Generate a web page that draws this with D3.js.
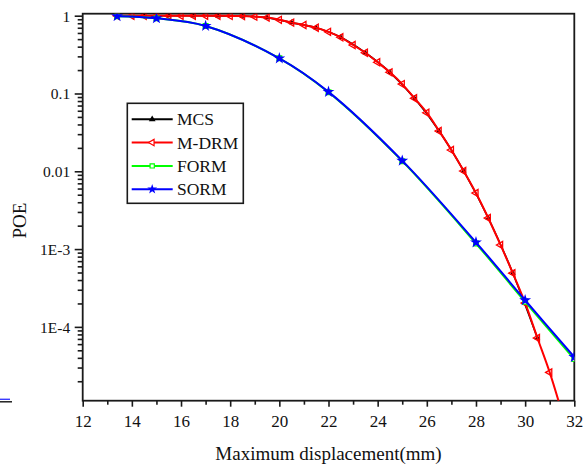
<!DOCTYPE html>
<html>
<head>
<meta charset="utf-8">
<script src="https://cdn.jsdelivr.net/npm/d3@7"></script>
<style>
  html, body { margin: 0; padding: 0; background: #fff; }
  svg { display: block; }
</style>
</head>
<body>
<svg id="chart" width="583" height="466"></svg>
<script>
// Probability of exceedance vs. maximum displacement
const mdrmX = [13.4, 14, 14.5, 15, 15.5, 16, 16.5, 17, 17.5, 18, 18.5, 19, 19.5, 20, 20.5, 21, 21.5, 22,
               22.5, 23, 23.5, 24, 24.5, 25, 25.5, 26, 26.5, 27, 27.5, 28, 28.5, 29, 29.5, 30, 30.5, 31, 31.5];
const mdrmPOE = [1.0, 1.0, 1.0, 0.999, 0.999, 0.998, 0.998, 0.997, 0.996, 0.994, 0.99, 0.972, 0.945, 0.885,
                 0.815, 0.76, 0.70, 0.62, 0.528, 0.42, 0.334, 0.252, 0.187, 0.132, 0.0867, 0.0566, 0.033,
                 0.0188, 0.0101, 0.00526, 0.00251, 0.00113, 4.9e-4, 2.03e-4, 7.2e-5, 2.6e-5, 7.9e-6];

const mcsX = [13.4, 14.5, 15.5, 16.5, 17.5, 18.5, 19.5, 20.5, 21.5, 22.5, 23.5, 24.5, 25.5, 26.5, 27.5, 28.5, 29.5, 30.5];
const mcsPOE = [1.0, 1.0, 0.999, 0.998, 0.996, 0.99, 0.945, 0.815, 0.70, 0.528, 0.334, 0.187, 0.0867, 0.033,
                0.0101, 0.00251, 4.9e-4, 7.2e-5];

const reliabX = [13.4, 15, 17, 20, 22, 25, 28, 30, 32];
const formPOE = [0.985, 0.926, 0.738, 0.283, 0.104, 0.0135, 0.00118, 2.1e-4, 3.85e-5];
const sormPOE = [0.985, 0.926, 0.738, 0.283, 0.105, 0.0137, 0.00122, 2.2e-4, 4.1e-5];

const xMajorTicks = [12, 14, 16, 18, 20, 22, 24, 26, 28, 30, 32];
const xMinorTicks = [13, 15, 17, 19, 21, 23, 25, 27, 29, 31];
const yMajorTicks = [1, 0.1, 0.01, 1e-3, 1e-4];
const yTickLabels = ["1", "0.1", "0.01", "1E-3", "1E-4"];

const seriesNames = ["MCS", "M-DRM", "FORM", "SORM"];
const seriesColors = ["#000000", "#ff0000", "#00ff00", "#0000ff"];

const svg = d3.select("#chart");
const serif = "Liberation Serif, Times New Roman, serif";
const plotLeft = 82.7, plotRight = 574.3, plotTop = 13.7, plotBottom = 400.7;

const x = d3.scaleLinear().domain([12, 32]).range([plotLeft, plotRight]);
const y = d3.scaleLog().domain([Math.pow(10, -4.949), Math.pow(10, 0.0257)]).range([plotBottom, plotTop]);

// minor log ticks: 2..9 within each decade in range
const yMinorTicks = [];
for (let e = -5; e <= 0; e++) {
  for (let m = 2; m <= 9; m++) {
    const v = m * Math.pow(10, e);
    if (v >= y.domain()[0] && v <= y.domain()[1]) yMinorTicks.push(v);
  }
}

svg.append("defs").append("clipPath").attr("id", "plotClip")
  .append("rect").attr("x", plotLeft).attr("y", plotTop)
  .attr("width", plotRight - plotLeft).attr("height", plotBottom - plotTop);

// axes
const axisColor = "#1a1a1a";
const gx = svg.append("g").attr("transform", `translate(0,${plotBottom})`)
  .call(d3.axisBottom(x).tickValues(xMajorTicks).tickSize(6).tickFormat(d => d));
gx.selectAll("text").attr("y", 26.5).attr("dy", 0)
  .style("font-family", serif).style("font-size", "17px").attr("fill", "#111");
svg.append("g").attr("transform", `translate(0,${plotBottom})`)
  .call(d3.axisBottom(x).tickValues(xMinorTicks).tickSize(4).tickFormat(""));

const gy = svg.append("g").attr("transform", `translate(${plotLeft},0)`)
  .call(d3.axisLeft(y).tickValues(yMajorTicks).tickSize(8).tickFormat((d, i) => yTickLabels[i]));
gy.selectAll("text").attr("x", -12.5).attr("dy", "0.35em")
  .style("font-family", serif).style("font-size", "15.5px").attr("fill", "#111");
svg.append("g").attr("transform", `translate(${plotLeft},0)`)
  .call(d3.axisLeft(y).tickValues(yMinorTicks).tickSize(5).tickFormat(""));

svg.selectAll(".domain").remove();
svg.selectAll(".tick line").attr("stroke", axisColor).attr("stroke-width", 1.6);

svg.append("rect").attr("x", plotLeft).attr("y", plotTop)
  .attr("width", plotRight - plotLeft).attr("height", plotBottom - plotTop)
  .attr("fill", "none").attr("stroke", axisColor).attr("stroke-width", 1.8);

// axis titles
svg.append("text").attr("x", (plotLeft + plotRight) / 2).attr("y", 460).attr("text-anchor", "middle")
  .style("font-family", serif).style("font-size", "19px").attr("fill", "#111").text("Maximum displacement(mm)");
svg.append("text").attr("transform", "translate(26,220.5) rotate(-90)").attr("text-anchor", "middle")
  .style("font-family", serif).style("font-size", "19px").attr("fill", "#111").text("POE");

// plotted series
const plot = svg.append("g").attr("clip-path", "url(#plotClip)");
const segLine = d3.line().x(d => x(d[0])).y(d => y(d[1])).curve(d3.curveMonotoneX);
const smoothLine = d3.line().x(d => x(d[0])).y(d => y(d[1])).curve(d3.curveCatmullRom.alpha(0.5));

const mcsData = mcsX.map((v, i) => [v, mcsPOE[i]]);
const mdrmData = mdrmX.map((v, i) => [v, mdrmPOE[i]]);
const formData = reliabX.map((v, i) => [v, formPOE[i]]);
const sormData = reliabX.map((v, i) => [v, sormPOE[i]]);

const markerMCS = d3.symbol().type(d3.symbolTriangle).size(14)();
const markerMDRM = d3.symbol().type(d3.symbolTriangle).size(22)();
const markerFORM = d3.symbol().type(d3.symbolSquare).size(22)();
const markerSORM = d3.symbol().type(d3.symbolStar).size(44)();

// MCS
plot.append("path").datum(mcsData).attr("d", segLine)
  .attr("fill", "none").attr("stroke", seriesColors[0]).attr("stroke-width", 1.6);
plot.selectAll(".mcs").data(mcsData).join("path").attr("class", "mcs")
  .attr("transform", d => `translate(${x(d[0])},${y(d[1])})`).attr("d", markerMCS).attr("fill", seriesColors[0]);

// M-DRM
plot.append("path").datum(mdrmData).attr("d", segLine)
  .attr("fill", "none").attr("stroke", seriesColors[1]).attr("stroke-width", 2);
plot.selectAll(".mdrm").data(mdrmData).join("path").attr("class", "mdrm")
  .attr("transform", d => `translate(${x(d[0])},${y(d[1])}) rotate(-90)`).attr("d", markerMDRM)
  .attr("fill", "none").attr("stroke", seriesColors[1]).attr("stroke-width", 1.3);

// FORM
plot.append("path").datum(formData).attr("d", smoothLine)
  .attr("fill", "none").attr("stroke", seriesColors[2]).attr("stroke-width", 2);
plot.selectAll(".form").data(formData).join("path").attr("class", "form")
  .attr("transform", d => `translate(${x(d[0])},${y(d[1])})`).attr("d", markerFORM)
  .attr("fill", "#fff").attr("stroke", seriesColors[2]).attr("stroke-width", 1.3);

// SORM
plot.append("path").datum(sormData).attr("d", smoothLine)
  .attr("fill", "none").attr("stroke", seriesColors[3]).attr("stroke-width", 2);
plot.selectAll(".sorm").data(sormData).join("path").attr("class", "sorm")
  .attr("transform", d => `translate(${x(d[0])},${y(d[1])})`).attr("d", markerSORM)
  .attr("fill", seriesColors[3]);

// legend
const legend = svg.append("g");
legend.append("rect").attr("x", 127.3).attr("y", 103.3).attr("width", 116).attr("height", 100)
  .attr("fill", "#fff").attr("stroke", axisColor).attr("stroke-width", 1.6);
const legendMarkers = [
  { d: d3.symbol().type(d3.symbolTriangle).size(20)(), rot: 0, fill: seriesColors[0], stroke: "none" },
  { d: d3.symbol().type(d3.symbolTriangle).size(18)(), rot: -90, fill: "#fff", stroke: seriesColors[1] },
  { d: d3.symbol().type(d3.symbolSquare).size(18)(), rot: 0, fill: "#fff", stroke: seriesColors[2] },
  { d: d3.symbol().type(d3.symbolStar).size(30)(), rot: 0, fill: seriesColors[3], stroke: "none" }
];
seriesNames.forEach((name, i) => {
  const ly = 119.3 + i * 23.3;
  legend.append("line").attr("x1", 131.7).attr("x2", 172.7).attr("y1", ly).attr("y2", ly)
    .attr("stroke", seriesColors[i]).attr("stroke-width", 2);
  const m = legendMarkers[i];
  legend.append("path").attr("d", m.d)
    .attr("transform", `translate(152.2,${ly}) rotate(${m.rot})`)
    .attr("fill", m.fill).attr("stroke", m.stroke).attr("stroke-width", 1.2);
  legend.append("text").attr("x", 177).attr("y", ly + 6)
    .style("font-family", serif).style("font-size", "17.5px")
    .attr("fill", "#111").text(name);
});

// short rule marks at the left margin
svg.append("line").attr("x1", 0).attr("x2", 10).attr("y1", 399.3).attr("y2", 399.3)
  .attr("stroke", "#3b3bff").attr("stroke-width", 1.4);
svg.append("line").attr("x1", 0).attr("x2", 12).attr("y1", 401.8).attr("y2", 401.8)
  .attr("stroke", "#111").attr("stroke-width", 1.4);
</script>
</body>
</html>
